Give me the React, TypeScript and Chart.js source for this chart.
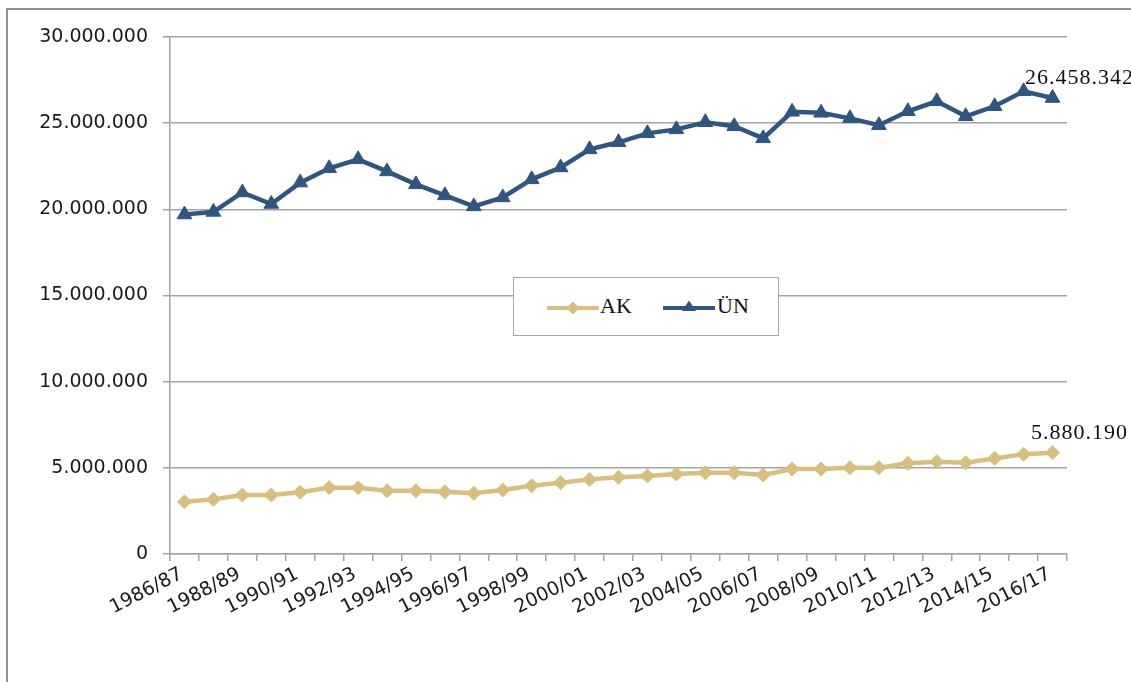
import React, { useEffect, useRef } from "react";
import { Chart, registerables } from "chart.js";

Chart.register(...registerables);

const categories: string[] = [
  "1986/87", "1987/88", "1988/89", "1989/90", "1990/91", "1991/92", "1992/93", "1993/94",
  "1994/95", "1995/96", "1996/97", "1997/98", "1998/99", "1999/00", "2000/01", "2001/02",
  "2002/03", "2003/04", "2004/05", "2005/06", "2006/07", "2007/08", "2008/09", "2009/10",
  "2010/11", "2011/12", "2012/13", "2013/14", "2014/15", "2015/16", "2016/17",
];

const akValues: number[] = [
  3030000, 3170000, 3420000, 3420000, 3580000, 3850000, 3850000, 3670000,
  3670000, 3610000, 3520000, 3710000, 3960000, 4140000, 4330000, 4450000,
  4530000, 4640000, 4720000, 4720000, 4580000, 4930000, 4930000, 5010000,
  5010000, 5260000, 5360000, 5300000, 5550000, 5790000, 5880190,
];

const unValues: number[] = [
  19700000, 19850000, 20980000, 20310000, 21550000, 22380000, 22900000, 22200000,
  21450000, 20810000, 20170000, 20690000, 21740000, 22430000, 23480000, 23890000,
  24410000, 24640000, 25050000, 24820000, 24120000, 25660000, 25600000, 25280000,
  24880000, 25690000, 26270000, 25400000, 25980000, 26850000, 26458342,
];

const yTicks: number[] = [0, 5000000, 10000000, 15000000, 20000000, 25000000, 30000000];

const seriesNames = ["AK", "ÜN"];
const GOLD = "#D9BE7E";
const BLUE = "#2F5582";
const GRID = "#A3A3A3";

const fmt = (v: number) => String(Math.round(v)).replace(/\B(?=(\d{3})+(?!\d))/g, ".");

const lastLabelPlugin = {
  id: "lastLabel",
  afterDatasetsDraw(chart: any) {
    const ctx = chart.ctx;
    ctx.save();
    ctx.font = "22px 'Liberation Serif'";
    ctx.fillStyle = "#111";
    ctx.textAlign = "center";
    ctx.textBaseline = "alphabetic";
    try { (ctx as any).letterSpacing = "1px"; } catch (e) {}
    chart.data.datasets.forEach((ds: any, i: number) => {
      const meta = chart.getDatasetMeta(i);
      const n = ds.data.length - 1;
      const pt = meta.data[n];
      if (!pt) return;
      ctx.fillText(fmt(ds.data[n]), pt.x + 27, pt.y - 14);
    });
    ctx.restore();
  },
};

function LegendBox() {
  return (
    <div
      style={{
        position: "absolute",
        left: 513,
        top: 277,
        width: 264,
        height: 57,
        border: "1.5px solid #A8A8A8",
        background: "#fff",
        fontFamily: "'Liberation Serif', serif",
        fontSize: 22,
        color: "#111",
      }}
    >
      <svg width={52} height={16} style={{ position: "absolute", left: 33, top: 22 }}>
        <line x1={1} y1={8} x2={51} y2={8} stroke={GOLD} strokeWidth={4} strokeLinecap="round" />
        <polygon points="26,1.5 32.5,8 26,14.5 19.5,8" fill={GOLD} />
      </svg>
      <span style={{ position: "absolute", left: 86, top: 15, lineHeight: "26px" }}>{seriesNames[0]}</span>
      <svg width={52} height={16} style={{ position: "absolute", left: 149, top: 22 }}>
        <line x1={1} y1={8} x2={51} y2={8} stroke={BLUE} strokeWidth={4} strokeLinecap="round" />
        <polygon points="26,0.5 33,11 19,11" fill={BLUE} />
      </svg>
      <span style={{ position: "absolute", left: 203, top: 15, lineHeight: "26px" }}>{seriesNames[1]}</span>
    </div>
  );
}

export default function App() {
  const canvasRef = useRef<HTMLCanvasElement | null>(null);

  useEffect(() => {
    if (!canvasRef.current) return;
    const chart = new Chart(canvasRef.current, {
      type: "line",
      data: {
        labels: categories,
        datasets: [
          {
            label: seriesNames[0],
            data: akValues,
            borderColor: GOLD,
            backgroundColor: GOLD,
            borderWidth: 4.5,
            pointStyle: "rectRot",
            pointRadius: 7,
            pointBorderWidth: 1,
            pointBackgroundColor: GOLD,
            pointBorderColor: GOLD,
            tension: 0,
          },
          {
            label: seriesNames[1],
            data: unValues,
            borderColor: BLUE,
            backgroundColor: BLUE,
            borderWidth: 4.5,
            pointStyle: "triangle",
            pointRadius: 8.5,
            pointBorderWidth: 1,
            pointBackgroundColor: BLUE,
            pointBorderColor: BLUE,
            tension: 0,
          },
        ],
      },
      options: {
        animation: false,
        responsive: false,
        devicePixelRatio: 1,
        layout: { padding: { left: 0, top: 37, right: 64, bottom: 0 } },
        plugins: {
          legend: { display: false },
          tooltip: { enabled: false },
        },
        scales: {
          x: {
            type: "category",
            offset: true,
            grid: {
              offset: true,
              drawOnChartArea: false,
              drawTicks: true,
              tickLength: 7,
              color: GRID,
              lineWidth: 1.5,
            },
            border: { display: true, color: GRID, width: 1.5 },
            ticks: {
              autoSkip: false,
              minRotation: 27,
              maxRotation: 27,
              padding: 2,
              labelOffset: -3,
              color: "#1a1a1a",
              font: { family: "'DejaVu Sans'", size: 19 },
              callback: (_v: any, idx: number) => (idx % 2 === 0 ? categories[idx] : ""),
            },
            afterFit: (scale: any) => {
              scale.height = 128;
            },
          },
          y: {
            min: 0,
            max: 30000000,
            afterBuildTicks: (scale: any) => {
              scale.ticks = yTicks.map((v) => ({ value: v }));
            },
            grid: {
              color: GRID,
              lineWidth: 1.5,
              drawTicks: true,
              tickLength: 7,
            },
            border: { display: true, color: GRID, width: 1.5 },
            ticks: {
              padding: 15,
              color: "#1a1a1a",
              font: { family: "'DejaVu Sans'", size: 19 },
              callback: (v: any) => fmt(Number(v)),
            },
            afterFit: (scale: any) => {
              scale.width = 170;
            },
          },
        },
      },
      plugins: [lastLabelPlugin],
    });
    return () => chart.destroy();
  }, []);

  return (
    <div
      style={{
        position: "fixed",
        left: 0,
        top: 0,
        width: 1131,
        height: 682,
        overflow: "hidden",
        background: "#fff",
      }}
    >
      <div
        style={{
          position: "absolute",
          left: 6,
          top: 8,
          width: 1300,
          height: 900,
          border: "2px solid #8E8E8E",
        }}
      />
      <canvas
        ref={canvasRef}
        width={1131}
        height={682}
        style={{ position: "absolute", left: 0, top: 0, width: 1131, height: 682 }}
      />
      <LegendBox />
    </div>
  );
}
